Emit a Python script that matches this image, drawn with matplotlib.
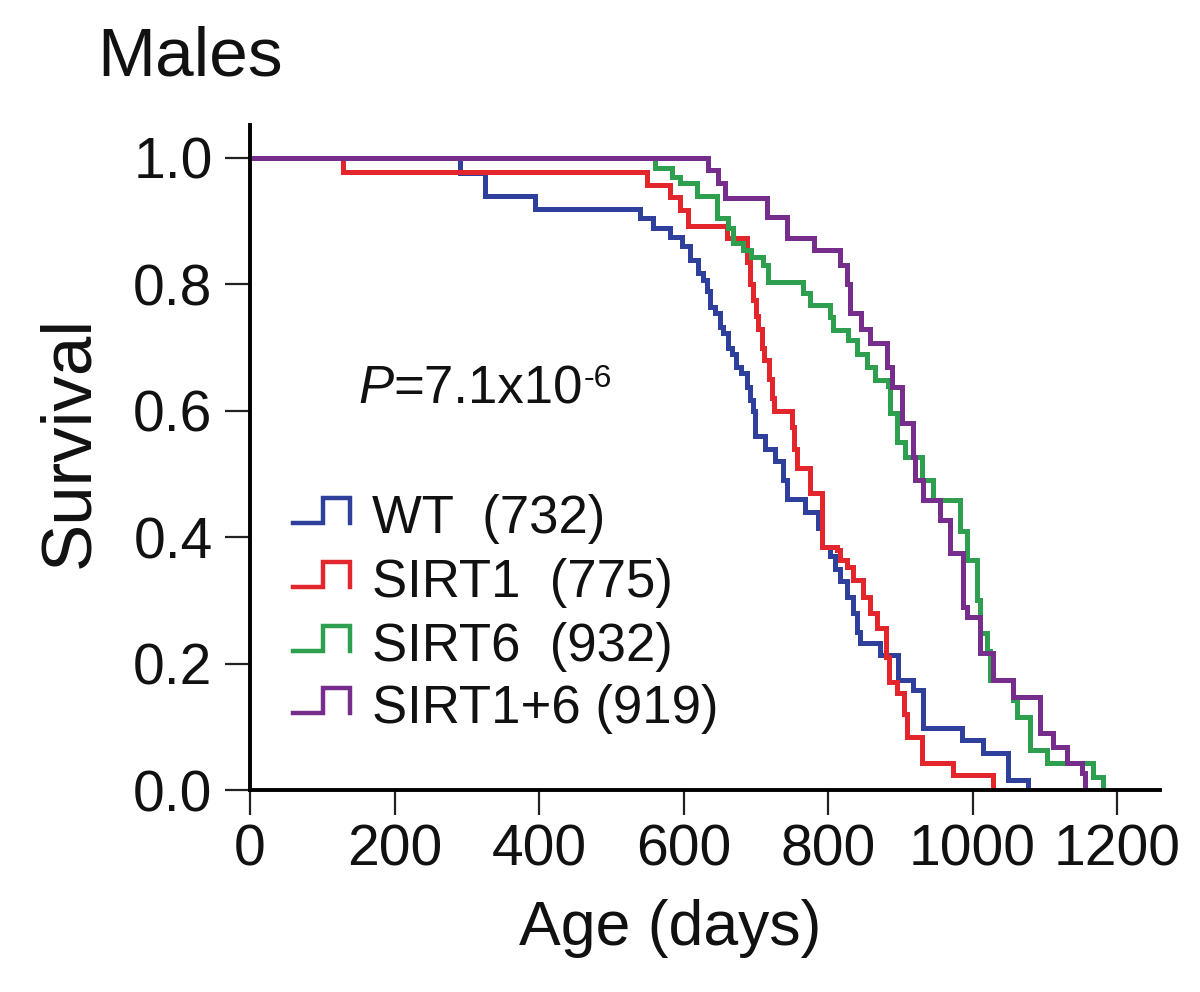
import matplotlib
matplotlib.use('Agg')
import matplotlib.pyplot as plt
from matplotlib.lines import Line2D

# ---------------- data ----------------
wt_days = [0, 290, 325, 394, 540, 558, 581, 598, 609, 620, 627, 633, 636, 644, 651, 655, 661, 667, 672, 680,
           688, 692, 696, 699, 713, 727, 738, 743, 768, 786, 792, 803, 810, 817, 826, 835, 840, 844, 872, 897,
           918, 931, 985, 1015, 1049, 1077]
wt_surv = [1.0, 0.977, 0.94, 0.92, 0.905, 0.89, 0.875, 0.86, 0.839, 0.818, 0.807, 0.79, 0.764, 0.755, 0.733,
           0.723, 0.70, 0.69, 0.67, 0.66, 0.638, 0.617, 0.60, 0.56, 0.54, 0.52, 0.49, 0.46, 0.44, 0.415, 0.385,
           0.37, 0.35, 0.33, 0.305, 0.28, 0.25, 0.232, 0.213, 0.174, 0.158, 0.098, 0.079, 0.058, 0.016, 0.0]

sirt1_days = [0, 129, 549, 581, 595, 606, 660, 688, 692, 696, 700, 703, 708, 712, 718, 722, 725, 750, 753, 757,
              775, 792, 812, 817, 826, 835, 848, 858, 868, 880, 884, 895, 905, 909, 930, 973, 1029]
sirt1_surv = [1.0, 0.978, 0.957, 0.938, 0.918, 0.892, 0.873, 0.835, 0.80, 0.775, 0.75, 0.73, 0.70, 0.68, 0.65,
              0.62, 0.60, 0.574, 0.54, 0.51, 0.47, 0.385, 0.38, 0.364, 0.353, 0.332, 0.305, 0.28, 0.256, 0.21,
              0.171, 0.153, 0.12, 0.084, 0.043, 0.024, 0.0]

sirt6_days = [0, 561, 584, 595, 618, 646, 662, 669, 683, 694, 710, 717, 766, 775, 803, 807, 828, 840, 854, 865,
              883, 886, 896, 907, 930, 945, 983, 992, 1006, 1010, 1020, 1024, 1056, 1062, 1080, 1103, 1167, 1181]
sirt6_surv = [1.0, 0.984, 0.97, 0.96, 0.94, 0.905, 0.89, 0.865, 0.855, 0.843, 0.83, 0.803, 0.786, 0.767, 0.748,
              0.728, 0.712, 0.69, 0.67, 0.649, 0.64, 0.596, 0.55, 0.527, 0.49, 0.459, 0.41, 0.364, 0.30, 0.248,
              0.22, 0.174, 0.142, 0.116, 0.063, 0.043, 0.02, 0.0]

sirt16_days = [0, 634, 648, 657, 715, 743, 780, 817, 826, 830, 845, 858, 881, 888, 902, 917, 920, 931, 955, 969,
               987, 992, 1010, 1028, 1056, 1094, 1111, 1131, 1152, 1156]
sirt16_surv = [1.0, 0.981, 0.96, 0.937, 0.907, 0.873, 0.854, 0.83, 0.80, 0.755, 0.73, 0.707, 0.67, 0.638, 0.58,
               0.527, 0.49, 0.459, 0.427, 0.375, 0.29, 0.274, 0.217, 0.174, 0.147, 0.09, 0.068, 0.043, 0.027, 0.0]

labels = ["WT  (732)", "SIRT1  (775)", "SIRT6  (932)", "SIRT1+6 (919)"]
colors = ["#2E3F9C", "#E3262B", "#2E9E4F", "#772D8C"]

x_ticks = [0, 200, 400, 600, 800, 1000, 1200]
x_ticklabels = ["0", "200", "400", "600", "800", "1000", "1200"]
y_ticks = [0.0, 0.2, 0.4, 0.6, 0.8, 1.0]
y_ticklabels = ["0.0", "0.2", "0.4", "0.6", "0.8", "1.0"]

title = "Males"
xlabel = "Age (days)"
ylabel = "Survival"

# ---------------- figure ----------------
plt.rcParams['font.family'] = ['Liberation Sans', 'DejaVu Sans']
W, H = 1200, 992
fig = plt.figure(figsize=(W / 100, H / 100), dpi=100)
fig.patch.set_facecolor('white')


def fx(x):
    return x / W


def fy(y):
    return 1 - y / H


ax = fig.add_axes([fx(250), fy(790), 910 / W, 665 / H])
ax.set_xlim(0, 1259.5)
ax.set_ylim(0, 1.0522)

series = [(wt_days, wt_surv), (sirt1_days, sirt1_surv), (sirt6_days, sirt6_surv), (sirt16_days, sirt16_surv)]
for (d, s), c in zip(series, colors):
    ax.step(d, s, where='post', color=c, lw=3.6, solid_joinstyle='miter', zorder=3)

for side in ['top', 'right']:
    ax.spines[side].set_visible(False)
for side in ['left', 'bottom']:
    ax.spines[side].set_linewidth(2.8)
    ax.spines[side].set_color('black')
    ax.spines[side].set_zorder(4)

ax.set_xticks(x_ticks)
ax.set_xticklabels(x_ticklabels)
ax.set_yticks(y_ticks)
ax.set_yticklabels(y_ticklabels)
ax.tick_params(axis='both', direction='out', length=18, width=1.6, color='#222222',
               labelsize=41, labelcolor='#111111')
ax.tick_params(axis='x', pad=6)
ax.tick_params(axis='y', pad=9)

# titles and labels
fig.text(fx(97), fy(75), title, fontsize=50, va='baseline', ha='left', color='#111111')
fig.text(fx(70), fy(442), ylabel, rotation=90, fontsize=51, ha='center', va='center', color='#111111')
fig.text(fx(670), fy(945), xlabel, fontsize=45, ha='center', va='baseline', color='#111111')

# P value text
renderer = fig.canvas.get_renderer()
tP = fig.text(fx(358), fy(403), "P", fontsize=38, style='italic', va='baseline', ha='left', color='#111111')
ext = tP.get_window_extent(renderer)
tM = fig.text(ext.x1 / W, fy(403), "=7.1x10", fontsize=38, va='baseline', ha='left', color='#111111')
ext2 = tM.get_window_extent(renderer)
fig.text(ext2.x1 / W + 1 / W, fy(387), "-6", fontsize=23, va='baseline', ha='left', color='#111111')

# legend (manual step-shaped handles)
baselines = [533, 597, 661, 723]
for lab, c, b in zip(labels, colors, baselines):
    yb = b - 10
    yt = b - 35
    xs = [fx(293), fx(323), fx(323), fx(350), fx(350)]
    ys = [fy(yb), fy(yb), fy(yt), fy(yt), fy(yb)]
    fig.add_artist(Line2D(xs, ys, transform=fig.transFigure, color=c, lw=3.2, solid_joinstyle='miter'))
    fig.text(fx(372), fy(b), lab, fontsize=38, va='baseline', ha='left', color='#111111')

fig.savefig('out.png', dpi=100, facecolor='white')
